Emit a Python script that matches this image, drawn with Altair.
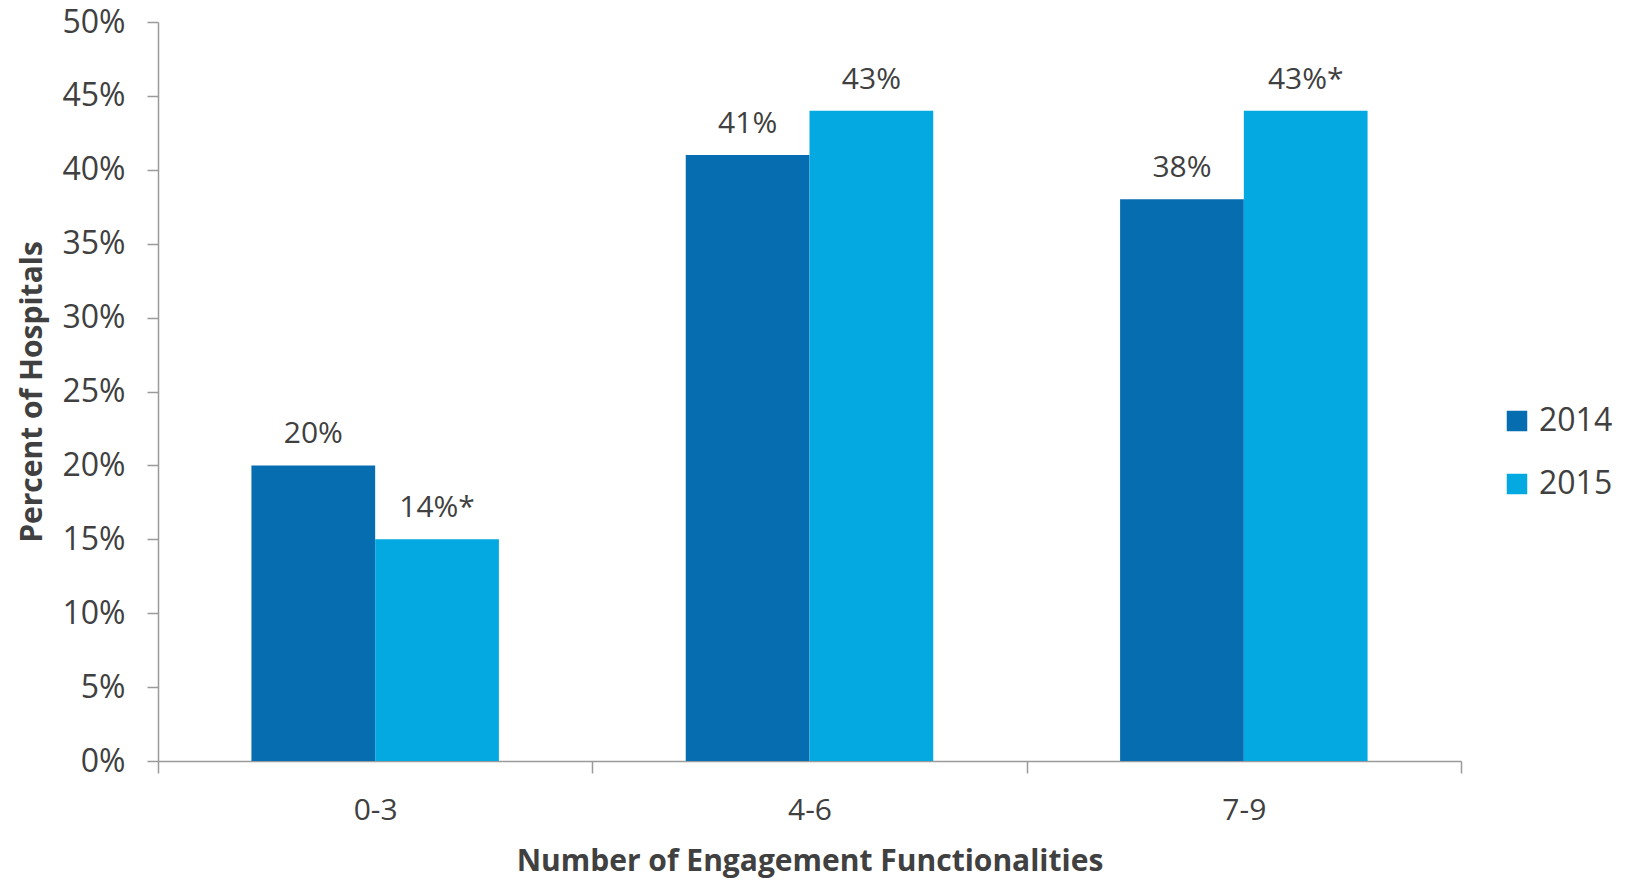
import altair as alt
import pandas as pd

categories = ["0-3", "4-6", "7-9"]
years = ["2014", "2015"]
values_2014 = [0.20, 0.41, 0.38]
values_2015 = [0.15, 0.44, 0.44]
labels_2014 = ["20%", "41%", "38%"]
labels_2015 = ["14%*", "43%", "43%*"]
y_ticks = [0, 0.05, 0.10, 0.15, 0.20, 0.25, 0.30, 0.35, 0.40, 0.45, 0.50]
colors = ["#066DB0", "#04A9E1"]

rows = []
for i, c in enumerate(categories):
    rows.append({"cat": c, "year": "2014", "value": values_2014[i], "label": labels_2014[i]})
    rows.append({"cat": c, "year": "2015", "value": values_2015[i], "label": labels_2015[i]})
df = pd.DataFrame(rows)

FONT = "Open Sans"
TXT = "#404040"

x = alt.X("cat:N", sort=categories,
          scale=alt.Scale(paddingInner=0, paddingOuter=0),
          axis=alt.Axis(title="Number of Engagement Functionalities", labelAngle=0,
                        tickBand="extent", tickSize=12, tickColor="#9a9a9a",
                        domainColor="#9a9a9a", domainWidth=1.5, tickWidth=1.5,
                        labelFontSize=30, labelColor=TXT, labelFont=FONT, labelPadding=22,
                        titleFontSize=30, titleFont=FONT, titleColor=TXT, titleFontWeight="bold",
                        titlePadding=21))
xo = alt.XOffset("year:N", sort=years, scale=alt.Scale(paddingOuter=0.755, paddingInner=0))
y = alt.Y("value:Q", scale=alt.Scale(domain=[0, 0.5], nice=False),
          axis=alt.Axis(values=y_ticks, format=".0%", grid=False, title="Percent of Hospitals",
                        tickSize=11, tickColor="#9a9a9a", domainColor="#9a9a9a",
                        domainWidth=1.5, tickWidth=1.5,
                        labelFontSize=32, labelColor=TXT, labelFont=FONT, labelPadding=22,
                        titleFontSize=30, titleFont=FONT, titleColor=TXT, titleFontWeight="bold",
                        titlePadding=14))

bars = alt.Chart(df).mark_bar().encode(
    x=x, xOffset=xo, y=y,
    color=alt.Color("year:N", sort=years, scale=alt.Scale(domain=years, range=colors),
                    legend=alt.Legend(title=None, orient="none", legendX=1343, legendY=383,
                                      symbolType="square", symbolSize=420, symbolStrokeWidth=0,
                                      symbolOpacity=1,
                                      labelFontSize=32, labelFont=FONT, labelColor=TXT,
                                      labelOffset=6, rowPadding=31)),
)

text = alt.Chart(df).mark_text(baseline="alphabetic", dy=-22, fontSize=30, font=FONT,
                               color=TXT).encode(
    x=alt.X("cat:N", sort=categories), xOffset=alt.XOffset("year:N", sort=years),
    y="value:Q", text="label:N")

chart = alt.layer(bars, text).properties(
    width=1303, height=739,
    autosize=alt.AutoSizeParams(type="none"),
    padding={"left": 158, "top": 22, "right": 169, "bottom": 119},
).configure(background="white").configure_view(stroke=None, strokeWidth=0)

chart.save("out.html", embed_options={"renderer": "svg", "actions": False})
